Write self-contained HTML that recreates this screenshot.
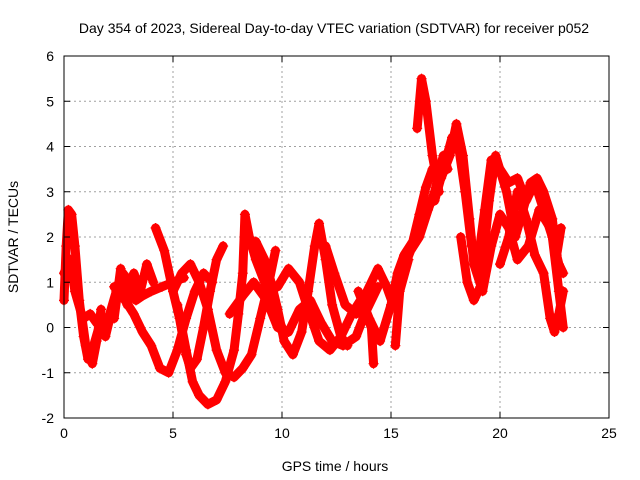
<!DOCTYPE html>
<html><head><meta charset="utf-8"><style>
body{margin:0;background:#fff;}
svg{display:block;font-family:"Liberation Sans",sans-serif;}
</style></head><body>
<svg id="chart" width="640" height="480" viewBox="0 0 640 480" xmlns="http://www.w3.org/2000/svg">
<rect width="640" height="480" fill="#fff"/>
<text x="334" y="33" font-size="14" text-anchor="middle" fill="#000">Day 354 of 2023, Sidereal Day-to-day VTEC variation (SDTVAR) for receiver p052</text>
<g id="grid"></g>
<g id="marks"></g>
<g id="axes"></g>
<text x="335" y="471" font-size="14" text-anchor="middle">GPS time / hours</text>
<text transform="translate(18,237) rotate(-90)" font-size="14" text-anchor="middle">SDTVAR / TECUs</text>
</svg>
<script>
const xTicks=[0,5,10,15,20,25];
const yTicks=[-2,-1,0,1,2,3,4,5,6];
const traceA=[[0,0.6],[0.1,1.8],[0.2,2.6],[0.35,2.5],[0.5,1.8],[0.7,0.6],[0.9,-0.2],[1.1,-0.7],[1.3,-0.5],[1.6,0.0],[1.9,-0.2],[2.1,0.2]];
const traceB=[[0.9,0.2],[1.2,0.3],[1.5,0.1],[1.8,0.0],[2.1,0.3],[2.4,0.8],[2.7,1.2],[3.0,1.0],[3.3,0.6],[3.6,0.7],[4.0,0.8],[4.5,0.9],[5.0,1.0],[5.5,1.1]];
const traceC=[[4.2,2.2],[4.6,1.7],[5.0,0.8],[5.3,0.2],[5.6,-0.6],[5.8,-0.9],[6.1,-0.7],[6.4,0.0],[6.7,0.8],[7.0,1.5],[7.3,1.8]];
const traceD=[[2.3,0.9],[2.8,0.6],[3.2,0.3],[3.6,-0.1],[4.0,-0.4],[4.4,-0.9],[4.8,-1.0],[5.2,-0.5],[5.6,0.2],[6.0,0.8],[6.4,1.2],[6.8,1.0]];
const traceE=[[5.0,0.8],[5.4,1.2],[5.8,1.4],[6.2,1.0],[6.6,0.4],[7.0,-0.5],[7.4,-1.0],[7.8,-1.1],[8.2,-0.9],[8.6,-0.6],[9.0,0.2],[9.4,1.0],[9.7,1.7]];
const traceF=[[5.2,0.5],[5.6,-0.5],[5.9,-1.2],[6.2,-1.5],[6.6,-1.7],[7.0,-1.6],[7.4,-1.2],[7.8,-0.5],[8.0,0.3],[8.2,1.2],[8.3,2.5],[8.5,2.0],[8.8,1.5],[9.2,1.0],[9.6,0.4],[10.0,0.0]];
const traceG=[[8.8,1.9],[9.2,1.5],[9.5,1.0],[9.8,0.4],[10.1,-0.3],[10.5,-0.6],[10.9,-0.1],[11.2,0.8],[11.5,1.8],[11.7,2.3],[12.0,1.5],[12.3,0.5],[12.7,-0.2],[13.0,-0.4]];
const traceH=[[7.6,0.3],[8.2,0.7],[8.7,1.0],[9.3,0.6],[9.8,0.0],[10.3,-0.1],[10.8,0.4],[11.3,0.6],[11.8,0.1],[12.3,-0.3],[12.8,-0.4],[13.4,-0.2],[13.8,0.3],[14.4,0.9]];
const traceI=[[9.8,0.9],[10.3,1.3],[10.8,1.0],[11.2,0.4],[11.7,-0.3],[12.2,-0.5],[12.7,-0.2],[13.2,0.3],[13.6,0.6],[14.1,0.0],[14.2,-0.8]];
const traceJ=[[12.0,1.8],[12.4,1.2],[12.9,0.5],[13.4,0.3],[13.9,0.8],[14.4,1.3],[14.8,0.9],[15.1,0.5]];
const traceK=[[13.5,0.8],[14.0,0.2],[14.5,-0.3],[15.0,0.5],[15.3,1.2],[15.6,1.6],[16.0,1.9],[16.3,2.5],[16.6,3.1],[16.9,3.5],[17.3,3.3],[17.7,3.8],[18.0,4.5],[18.3,3.8],[18.6,2.4],[18.8,1.4],[19.2,0.8],[19.6,1.8],[20.0,2.5],[20.4,2.2],[20.8,1.5],[21.3,1.8],[21.8,2.6],[22.3,2.2],[22.7,1.4],[22.9,1.2]];
const traceL=[[16.2,4.4],[16.4,5.5],[16.6,5.0],[16.9,3.8],[17.2,3.0]];
const traceM=[[15.2,-0.4],[15.4,0.8],[15.8,1.5]];
const traceN=[[17.0,2.8],[17.4,3.5],[17.8,4.2],[18.1,4.0],[18.4,3.0],[18.7,1.8],[19.0,1.5],[19.3,2.6],[19.6,3.7],[20.0,3.5],[20.4,3.2],[20.8,3.3],[21.2,2.8],[21.6,3.2],[22.0,2.6],[22.4,2.0],[22.7,0.8],[22.9,0.0]];
const traceO=[[18.2,2.0],[18.5,1.0],[18.8,0.6],[19.1,0.9],[19.5,2.8],[19.8,3.8],[20.3,3.0],[20.7,2.0],[21.0,2.5],[21.4,3.2],[21.7,3.3],[22.0,3.0],[22.4,2.4],[22.6,1.6],[22.8,2.2]];
const traceP=[[20.0,1.4],[20.4,2.0],[20.8,3.0],[21.2,2.4],[21.6,1.6],[22.0,1.2],[22.3,0.2],[22.5,-0.1],[22.7,0.3],[22.9,0.8]];
const traceQ=[[0,1.2],[0.3,1.5],[0.5,0.8],[0.8,0.3],[1.0,-0.4],[1.3,-0.8],[1.5,-0.3],[1.7,0.4]];
const traceR=[[2.3,0.2],[2.6,1.3],[2.9,0.5],[3.2,1.2],[3.5,0.8],[3.8,1.4],[4.1,1.0]];
const traceS=[[15.5,1.2],[15.9,1.7],[16.3,2.0],[16.7,2.6],[17.0,3.0],[17.4,3.8],[17.6,3.5]];
const traces=[traceA,traceB,traceC,traceD,traceE,traceF,traceG,traceH,traceI,traceJ,traceK,traceL,traceM,traceN,traceO,traceP,traceQ,traceR,traceS];

const L=64,R=609,T=56,B=418;
const sx=v=>L+(v-0)/(25-0)*(R-L);
const sy=v=>B-(v+2)/(8)*(B-T);
const NS="http://www.w3.org/2000/svg";
const grid=document.getElementById('grid'),axes=document.getElementById('axes'),marks=document.getElementById('marks');
function mk(tag,attrs,parent){const e=document.createElementNS(NS,tag);for(const k in attrs)e.setAttribute(k,attrs[k]);parent.appendChild(e);return e;}
xTicks.forEach(t=>{
  const x=sx(t);
  if(t>0&&t<25){const g=mk('line',{x1:x,y1:T,x2:x,y2:B,stroke:'#a0a0a0','stroke-dasharray':'2,3','stroke-width':1},grid);
  
  }
  mk('line',{x1:x,y1:B,x2:x,y2:B-6,stroke:'#000'},axes);
  mk('line',{x1:x,y1:T,x2:x,y2:T+6,stroke:'#000'},axes);
  const tx=mk('text',{x:x,y:B+20,'font-size':14,'text-anchor':'middle'},axes);tx.textContent=t;
  
  
});
yTicks.forEach(t=>{
  const y=sy(t);
  if(t>-2&&t<6){const g=mk('line',{x1:L,y1:y,x2:R,y2:y,stroke:'#a0a0a0','stroke-dasharray':'2,3','stroke-width':1},grid);
  
  }
  mk('line',{x1:L,y1:y,x2:L+6,y2:y,stroke:'#000'},axes);
  mk('line',{x1:R,y1:y,x2:R-6,y2:y,stroke:'#000'},axes);
  const tx=mk('text',{x:L-10,y:y+5,'font-size':14,'text-anchor':'end'},axes);tx.textContent=t;
  
  
});
const frame=mk('rect',{x:L,y:T,width:R-L,height:B-T,fill:'none',stroke:'#000','stroke-width':1},axes);


traces.forEach((tr,i)=>{
  const g=mk('g',{},marks);
  
  
  mk('polyline',{points:tr.map(p=>sx(p[0])+','+sy(p[1])).join(' '),fill:'none',stroke:'#ff0000','stroke-width':9,'stroke-linejoin':'round','stroke-linecap':'round'},g);
  let d='';
  tr.forEach(p=>{const x=sx(p[0]),y=sy(p[1]);d+=`M${x-5},${y}h10M${x},${y-5}v10`;});
  mk('path',{d:d,stroke:'#ff0000','stroke-width':1.2},g);
});
</script>
</body></html>
